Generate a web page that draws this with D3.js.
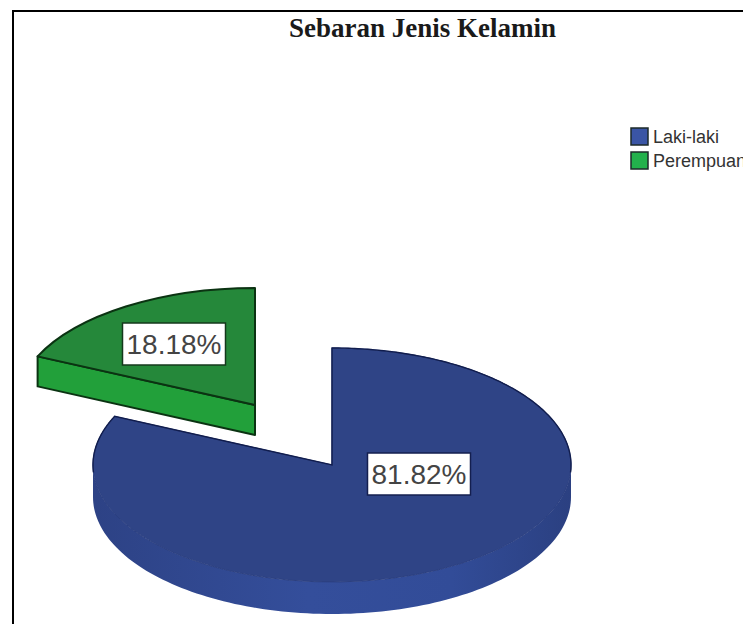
<!DOCTYPE html>
<html>
<head>
<meta charset="utf-8">
<style>
  html, body { margin: 0; padding: 0; background: #fff; overflow: hidden; }
  svg { display: block; }
</style>
<script src="https://cdn.jsdelivr.net/npm/d3@7/dist/d3.min.js"></script>
</head>
<body>
<script>
// Gender distribution, drawn as an extruded pie with the smaller slice pulled out.
const categories = ["Laki-laki", "Perempuan"];
const values = [81.82, 18.18];
const titleText = "Sebaran Jenis Kelamin";

const faceColors = ["#2f4486", "#25883a"];
const wallColors = ["#35509e", "#22a03a"];
const legendColors = ["#3a55a5", "#22b14c"];

const width = 743, height = 624;
const rx = 239, ry = 117;
const center = { x: 332, y: 465 };
const wallDepth = [32, 30];
const slicePull = [[0, 0], [-77, -60]];
const labelPull = [[87, 9], [-81, -61]];

const svg = d3.select("body").append("svg")
  .attr("width", width).attr("height", height);

// Outer frame, open past the right and bottom edges of the page.
svg.append("rect")
  .attr("x", 13).attr("y", 11)
  .attr("width", width + 20).attr("height", height + 20)
  .attr("fill", "#fff").attr("stroke", "#000").attr("stroke-width", 2);

svg.append("text")
  .attr("x", 422.5).attr("y", 37)
  .attr("text-anchor", "middle")
  .attr("font-family", "'Liberation Serif', serif")
  .attr("font-weight", "bold")
  .attr("font-size", 27)
  .attr("fill", "#1a1a1a")
  .text(titleText);

const defs = svg.append("defs");
const blueWall = defs.append("linearGradient").attr("id", "wall-0");
[["0%", "#2d4285"], ["45%", "#344e9b"], ["75%", "#324c98"], ["100%", "#2b4081"]]
  .forEach(([o, c]) => blueWall.append("stop").attr("offset", o).attr("stop-color", c));

const pie = d3.pie().sort(null).value(d => d);
const slices = pie(values);

// A point on the tilted disc: angle runs clockwise from twelve o'clock.
const onDisc = (a, r = 1) => [r * rx * Math.sin(a), -r * ry * Math.cos(a)];
const arcPath = d3.arc().innerRadius(0).outerRadius(rx);
const sampled = (a0, a1) => d3.range(0, 121).map(i => a0 + (a1 - a0) * i / 120);

const slice = svg.selectAll("g.slice").data(slices).join("g")
  .attr("class", "slice")
  .attr("transform", (d, i) =>
    `translate(${center.x + slicePull[i][0]},${center.y + slicePull[i][1]})`);

// Rim wall of the large slice along the front half of the disc.
slice.filter((d, i) => i === 0).each(function (d) {
  const front = sampled(Math.PI / 2, 3 * Math.PI / 2);
  const wall = d3.area()
    .x(a => onDisc(a)[0])
    .y0(a => onDisc(a)[1])
    .y1(a => onDisc(a)[1] + wallDepth[0])
    .curve(d3.curveLinear);
  d3.select(this).append("path")
    .attr("d", wall(front))
    .attr("fill", "url(#wall-0)");
});

// Cut wall of the pulled-out slice, exposed along its lower radius.
slice.filter((d, i) => i === 1).each(function (d) {
  const tip = onDisc(d.startAngle);
  const cut = d3.area()
    .x(p => p[0]).y0(p => p[1]).y1(p => p[1] + wallDepth[1]);
  d3.select(this).append("path")
    .attr("d", cut([tip, [0, 0]]))
    .attr("fill", wallColors[1])
    .attr("stroke", "#0b3312").attr("stroke-width", 2).attr("stroke-linejoin", "round");
});

// Top faces, squashed into ellipses; the outline keeps its width under the squash.
slice.append("path")
  .attr("d", d => arcPath(d))
  .attr("transform", `scale(1,${ry / rx})`)
  .attr("fill", (d, i) => faceColors[i])
  .attr("stroke", (d, i) => i === 0 ? "#2b3f80" : "#0b3312")
  .attr("stroke-width", (d, i) => i === 0 ? 1 : 2)
  .attr("stroke-linejoin", "round")
  .attr("vector-effect", "non-scaling-stroke");

// Darker edge on the large slice: both cut radii and the back of its rim.
slice.filter((d, i) => i === 0).each(function (d) {
  const back = [
    ...sampled(d.startAngle, Math.PI * 0.52).map(a => onDisc(a)).reverse(),
    [0, 0],
    ...sampled(d.endAngle, Math.PI * 1.48).map(a => onDisc(a))
  ];
  d3.select(this).append("path")
    .attr("d", d3.line()(back))
    .attr("fill", "none")
    .attr("stroke", "#111d4d").attr("stroke-width", 1.4);
});

// Percentage labels in white boxes.
const boxW = 103, boxH = 42;
const label = svg.selectAll("g.value").data(slices).join("g")
  .attr("class", "value")
  .attr("transform", (d, i) =>
    `translate(${center.x + slicePull[i][0] + labelPull[i][0]},${center.y + slicePull[i][1] + labelPull[i][1]})`);
label.append("rect")
  .attr("x", -boxW / 2).attr("y", -boxH / 2)
  .attr("width", boxW).attr("height", boxH)
  .attr("fill", "#fff")
  .attr("stroke", (d, i) => i === 0 ? "#141f4f" : "#14381c")
  .attr("stroke-width", 1.5);
label.append("text")
  .attr("text-anchor", "middle")
  .attr("y", 10)
  .attr("font-family", "'Liberation Sans', Arial, sans-serif")
  .attr("font-size", 28)
  .attr("fill", "#444")
  .text(d => d3.format(".2f")(d.value) + "%");

// Legend; the longer entry runs off the right edge of the page.
const legend = svg.selectAll("g.legend").data(categories).join("g")
  .attr("class", "legend")
  .attr("transform", (d, i) => `translate(631,${128 + i * 24})`);
legend.append("rect")
  .attr("width", 17).attr("height", 17)
  .attr("fill", (d, i) => legendColors[i])
  .attr("stroke", "#1c2a2a").attr("stroke-width", 1.5);
legend.append("text")
  .attr("x", 22).attr("y", 15)
  .attr("font-family", "'Liberation Sans', Arial, sans-serif")
  .attr("font-size", 18)
  .attr("fill", "#333")
  .text(d => d);
</script>
</body>
</html>
